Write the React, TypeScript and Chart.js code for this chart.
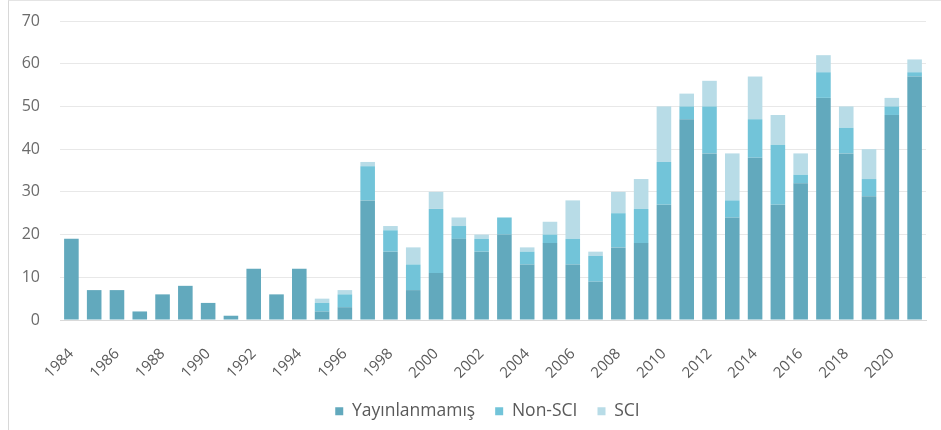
import React, { useEffect, useRef } from "react";
import { Chart, registerables } from "chart.js";

Chart.register(...registerables);

const years: string[] = [
  "1984","1985","1986","1987","1988","1989","1990","1991","1992","1993",
  "1994","1995","1996","1997","1998","1999","2000","2001","2002","2003",
  "2004","2005","2006","2007","2008","2009","2010","2011","2012","2013",
  "2014","2015","2016","2017","2018","2019","2020","2021",
];

const yayinlanmamis: number[] = [
  19, 7, 7, 2, 6, 8, 4, 1, 12, 6,
  12, 2, 3, 28, 16, 7, 11, 19, 16, 20,
  13, 18, 13, 9, 17, 18, 27, 47, 39, 24,
  38, 27, 32, 52, 39, 29, 48, 57,
];

const nonSci: number[] = [
  0, 0, 0, 0, 0, 0, 0, 0, 0, 0,
  0, 2, 3, 8, 5, 6, 15, 3, 3, 4,
  3, 2, 6, 6, 8, 8, 10, 3, 11, 4,
  9, 14, 2, 6, 6, 4, 2, 1,
];

const sci: number[] = [
  0, 0, 0, 0, 0, 0, 0, 0, 0, 0,
  0, 1, 1, 1, 1, 4, 4, 2, 1, 0,
  1, 3, 9, 1, 5, 7, 13, 3, 6, 11,
  10, 7, 5, 4, 5, 7, 2, 3,
];

const yTicks: number[] = [0, 10, 20, 30, 40, 50, 60, 70];

const legendShift = {
  id: "legendShift",
  beforeDraw(chart: any) {
    const lg = chart.legend;
    if (lg) {
      lg.left = 46;
      lg.right = 929;
    }
  },
};

export default function App() {
  const ref = useRef<HTMLCanvasElement | null>(null);

  useEffect(() => {
    document.body.style.margin = "0";
    const ctx = ref.current;
    if (!ctx) return;
    const font = "'Open Sans', 'Liberation Sans', sans-serif";
    const chart = new Chart(ctx, {
      type: "bar",
      data: {
        labels: years,
        datasets: [
          { label: "Yayınlanmamış", data: yayinlanmamis, backgroundColor: "#62a9bd" },
          { label: "Non-SCI", data: nonSci, backgroundColor: "#72c4d9" },
          { label: "SCI", data: sci, backgroundColor: "#b8dce7" },
        ],
      },
      options: {
        responsive: false,
        animation: false,
        maintainAspectRatio: false,
        datasets: { bar: { barPercentage: 0.64, categoryPercentage: 1 } },
        layout: { padding: { left: 0, right: 15, top: 21, bottom: 0 } },
        plugins: {
          tooltip: { enabled: false },
          legend: {
            position: "bottom",
            labels: {
              boxWidth: 8,
              boxHeight: 8,
              padding: 20,
              color: "#595959",
              font: { family: font, size: 17.5 },
            },
          },
        },
        scales: {
          x: {
            stacked: true,
            grid: { display: false, drawTicks: false },
            border: { display: true, color: "#d9d9d9" },
            ticks: {
              autoSkip: false,
              maxRotation: 45,
              minRotation: 45,
              padding: 25,
              color: "#595959",
              font: { family: font, size: 15 },
              callback: (_v: any, i: number) => (i % 2 === 0 ? years[i] : ""),
            },
            afterFit: (s: any) => {
              s.height = 62.5;
              s.paddingLeft = 0;
              s.paddingRight = 0;
            },
          },
          y: {
            stacked: true,
            min: 0,
            max: 70,
            afterBuildTicks: (s: any) => { s.ticks = yTicks.map((v) => ({ value: v })); },
            grid: { color: "#e8e8e8", drawTicks: false },
            border: { display: false },
            ticks: {
              padding: 20,
              color: "#6b6b6b",
              font: { family: font, size: 16 },
            },
            afterFit: (s: any) => {
              s.width = 60;
              s.paddingTop = 0;
              s.paddingBottom = 0;
            },
          },
        },
      },
      plugins: [legendShift],
    });
    return () => chart.destroy();
  }, []);

  return (
    <div style={{ position: "relative", width: 941, height: 430, background: "#fff" }}>
      <div style={{ position: "absolute", left: 8, top: 0, width: 933, height: 430, borderLeft: "1px solid #d8d8d8", borderTop: "1px solid #e4e4e4", boxSizing: "border-box" }} />
      <canvas ref={ref} width={941} height={430} style={{ position: "absolute", left: 0, top: 0, display: "block" }} />
    </div>
  );
}
